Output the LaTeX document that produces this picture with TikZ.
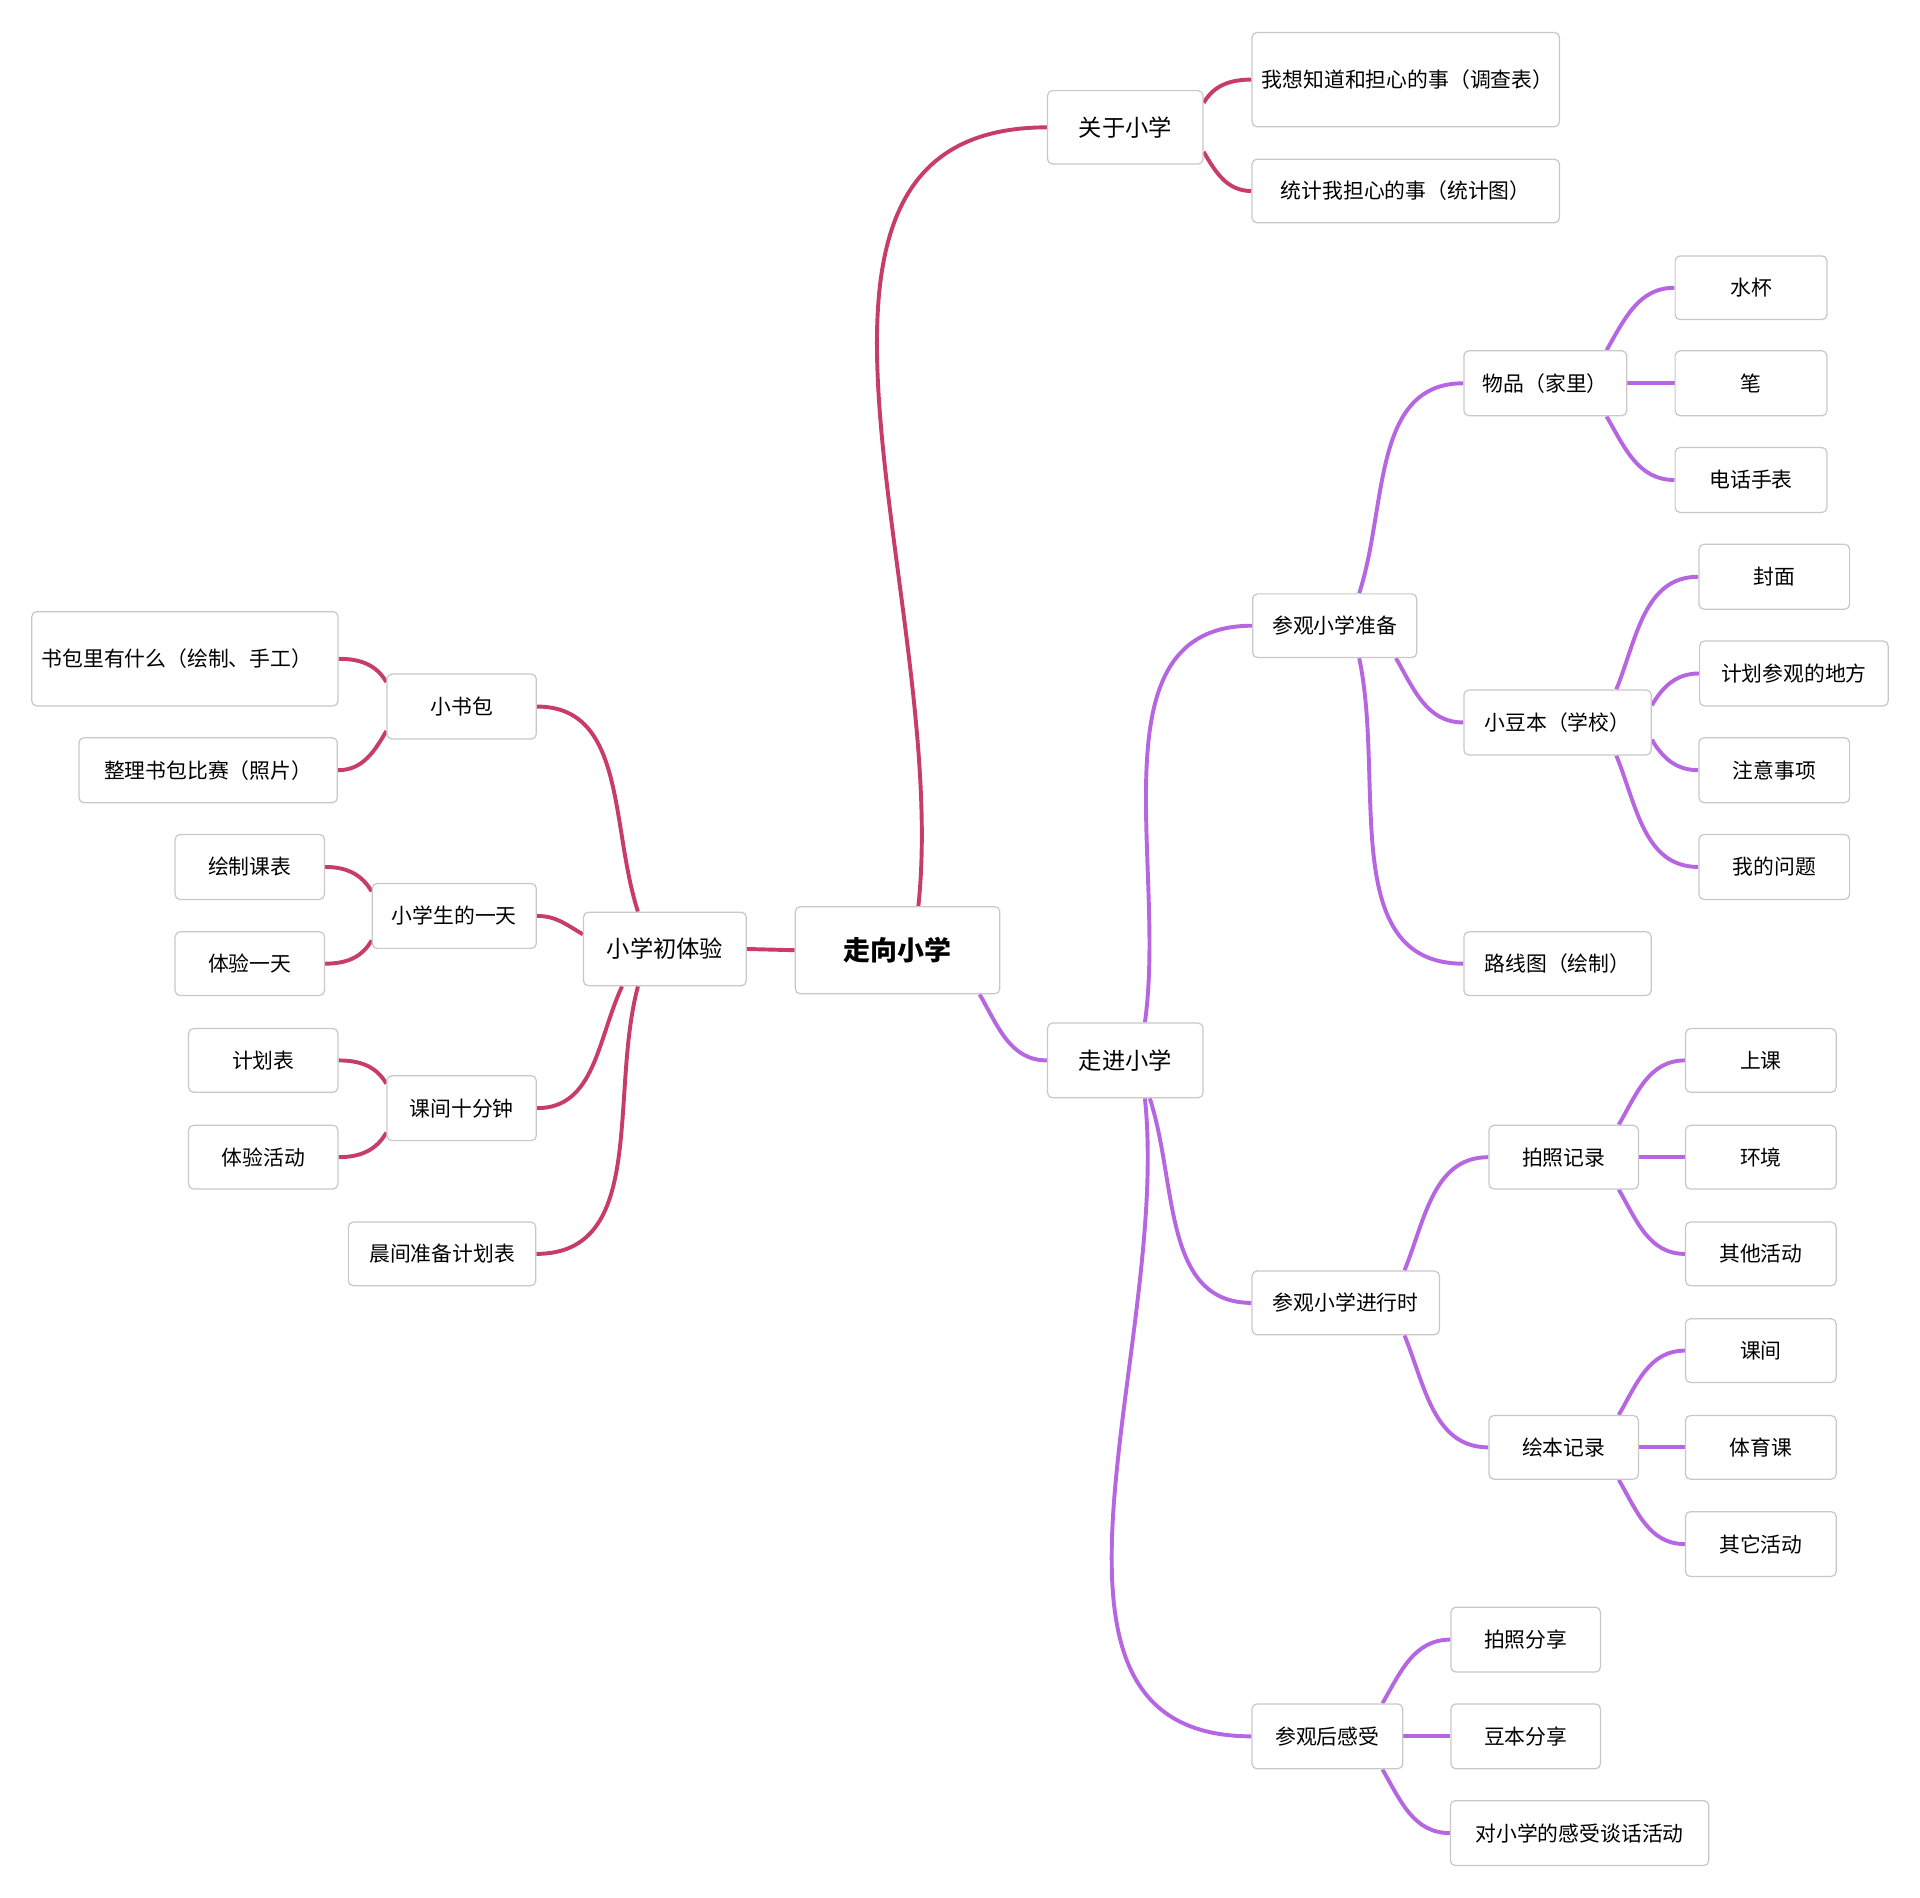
\documentclass[tikz,border=0pt]{standalone}
\usepackage{fontspec}
\setmainfont{Noto Sans CJK SC}
\usetikzlibrary{calc}
\definecolor{rb}{HTML}{C83C6A}
\definecolor{pb}{HTML}{B566E0}
\definecolor{bd}{HTML}{C8C8C8}
\begin{document}
\begin{tikzpicture}[x=1pt,y=-1pt,
 box/.style={draw=bd,line width=1pt,fill=white,rounded corners=4pt,font=\fontsize{17}{22}\selectfont,inner sep=2pt,align=center},
 r/.style={draw=rb,line width=3.2pt},
 p/.style={draw=pb,line width=3.2pt}]
\useasboundingbox (0,0) rectangle (1568,1550);
\newcommand{\bx}[7][]{\node[box,minimum width=#5,minimum height=#6,#1] (#2) at (#3,#4) {#7};}
% connectors first (under boxes) -> use coordinates via nodes defined first in background trick: define nodes, then draw on layers
\pgfdeclarelayer{bg}\pgfsetlayers{bg,main}
\bx[font=\fontsize{22}{26}\selectfont\bfseries]{root}{733}{776}{167}{71}{走向小学}
\bx[font=\fontsize{19}{24}\selectfont]{gy}{919}{104}{127}{60}{关于小学}
\bx[text width=235,align=left]{t1}{1148}{65}{251}{77}{我想知道和担心的事（调查表）}
\bx{t2}{1148}{156}{251}{52}{统计我担心的事（统计图）}
\bx[font=\fontsize{19}{24}\selectfont]{zj}{919}{866}{127}{61}{走进小学}
\bx{cg}{1090}{511}{134}{52}{参观小学准备}
\bx{wp}{1262}{313}{133}{53}{物品（家里）}
\bx{sb}{1430}{235}{124}{52}{水杯}
\bx{bi}{1430}{313}{124}{53}{笔}
\bx{dh}{1430}{392}{124}{53}{电话手表}
\bx{xd}{1272}{590}{153}{53}{小豆本（学校）}
\bx{fm}{1449}{471}{123}{53}{封面}
\bx{jh}{1465}{550}{154}{53}{计划参观的地方}
\bx{zy}{1449}{629}{123}{53}{注意事项}
\bx{wt}{1449}{708}{123}{53}{我的问题}
\bx{lx}{1272}{787}{153}{52}{路线图（绘制）}
\bx{jx}{1099}{1064}{153}{52}{参观小学进行时}
\bx{pz}{1277}{945}{122}{52}{拍照记录}
\bx{sk}{1438}{866}{123}{52}{上课}
\bx{hj}{1438}{945}{123}{52}{环境}
\bx{qt}{1438}{1024}{123}{52}{其他活动}
\bx{hb}{1277}{1182}{122}{52}{绘本记录}
\bx{kk}{1438}{1103}{123}{52}{课间}
\bx{ty}{1438}{1182}{123}{52}{体育课}
\bx{qa}{1438}{1261}{123}{53}{其它活动}
\bx{hg}{1084}{1418}{123}{53}{参观后感受}
\bx{pf}{1246}{1339}{122}{53}{拍照分享}
\bx{df}{1246}{1418}{122}{53}{豆本分享}
\bx{dx}{1290}{1497}{211}{53}{对小学的感受谈话活动}
\bx[font=\fontsize{19}{24}\selectfont]{xc}{543}{775}{133}{60}{小学初体验}
\bx{sbb}{377}{577}{122}{53}{小书包}
\bx[text width=234,align=left]{bl}{151}{538}{250}{77}{书包里有什么（绘制、手工）}
\bx{zl}{170}{629}{211}{53}{整理书包比赛（照片）}
\bx{yt}{371}{748}{134}{53}{小学生的一天}
\bx{hk}{204}{708}{122}{53}{绘制课表}
\bx{ty1}{204}{787}{122}{52}{体验一天}
\bx{kj}{377}{905}{122}{53}{课间十分钟}
\bx{jb}{215}{866}{122}{52}{计划表}
\bx{th}{215}{945}{122}{52}{体验活动}
\bx{cj}{361}{1024}{153}{52}{晨间准备计划表}
\begin{pgfonlayer}{bg}
\draw[r] ($(root.north)+(17,0)$) to[out=84,in=180] (gy.west);
\draw[p] ($(root.south)+(67,0)$) to[out=-60,in=180] (zj.west);
\draw[r] (root.west) -- (xc.east);
\draw[r] ($(gy.east)+(0,-20)$) to[out=60,in=180] (t1.west);
\draw[r] ($(gy.east)+(0,20)$) to[out=-60,in=180] (t2.west);
\draw[p] ($(zj.north)+(16,0)$) to[out=82,in=180] (cg.west);
\draw[p] ($(zj.south)+(20,0)$) to[out=-72,in=180] (jx.west);
\draw[p] ($(zj.south)+(16,0)$) to[out=-84,in=180] (hg.west);
\draw[p] ($(cg.north)+(20,0)$) to[out=72,in=180] (wp.west);
\draw[p] ($(cg.south)+(50,0)$) to[out=-60,in=180] (xd.west);
\draw[p] ($(cg.south)+(20,0)$) to[out=-78,in=180] (lx.west);
\draw[p] ($(wp.north)+(50,0)$) to[out=60,in=180] (sb.west);
\draw[p] (wp.east) -- (bi.west);
\draw[p] ($(wp.south)+(50,0)$) to[out=-60,in=180] (dh.west);
\draw[p] ($(xd.north)+(48,0)$) to[out=68,in=180] (fm.west);
\draw[p] ($(xd.east)+(0,-14)$) to[out=60,in=180] (jh.west);
\draw[p] ($(xd.east)+(0,14)$) to[out=-60,in=180] (zy.west);
\draw[p] ($(xd.south)+(48,0)$) to[out=-68,in=180] (wt.west);
\draw[p] ($(jx.north)+(48,0)$) to[out=68,in=180] (pz.west);
\draw[p] ($(jx.south)+(48,0)$) to[out=-68,in=180] (hb.west);
\draw[p] ($(pz.north)+(45,0)$) to[out=60,in=180] (sk.west);
\draw[p] (pz.east) -- (hj.west);
\draw[p] ($(pz.south)+(45,0)$) to[out=-60,in=180] (qt.west);
\draw[p] ($(hb.north)+(45,0)$) to[out=60,in=180] (kk.west);
\draw[p] (hb.east) -- (ty.west);
\draw[p] ($(hb.south)+(45,0)$) to[out=-60,in=180] (qa.west);
\draw[p] ($(hg.north)+(45,0)$) to[out=60,in=180] (pf.west);
\draw[p] (hg.east) -- (df.west);
\draw[p] ($(hg.south)+(45,0)$) to[out=-60,in=180] (dx.west);
\draw[r] ($(xc.north)+(-22,0)$) to[out=108,in=0] (sbb.east);
\draw[r] ($(xc.west)+(0,-12)$) to[out=150,in=0] (yt.east);
\draw[r] ($(xc.south)+(-35,0)$) to[out=-115,in=0] (kj.east);
\draw[r] ($(xc.south)+(-22,0)$) to[out=-105,in=0] (cj.east);
\draw[r] ($(sbb.west)+(0,-20)$) to[out=120,in=0] (bl.east);
\draw[r] ($(sbb.west)+(0,20)$) to[out=-120,in=0] (zl.east);
\draw[r] ($(yt.west)+(0,-20)$) to[out=120,in=0] (hk.east);
\draw[r] ($(yt.west)+(0,20)$) to[out=-120,in=0] (ty1.east);
\draw[r] ($(kj.west)+(0,-20)$) to[out=120,in=0] (jb.east);
\draw[r] ($(kj.west)+(0,20)$) to[out=-120,in=0] (th.east);
\end{pgfonlayer}
\end{tikzpicture}
\end{document}
